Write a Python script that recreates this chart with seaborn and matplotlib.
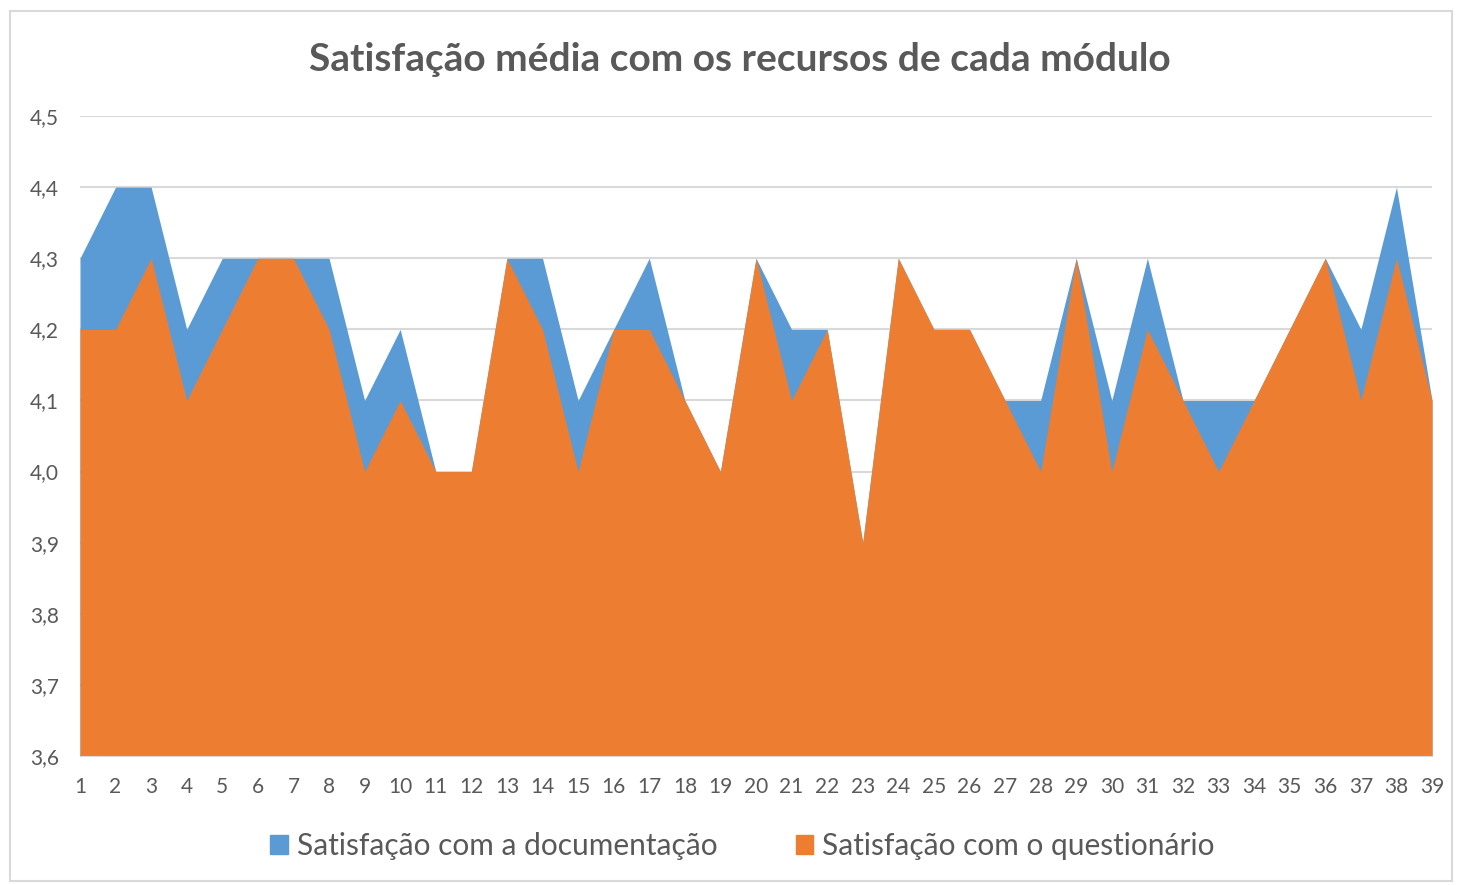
import pandas as pd
import matplotlib.pyplot as plt
import seaborn as sns
from matplotlib.patches import Patch, Rectangle
from matplotlib.ticker import FuncFormatter, MultipleLocator

modulos = list(range(1, 40))
doc = [4.3, 4.4, 4.4, 4.2, 4.3, 4.3, 4.3, 4.3, 4.1, 4.2,
       4.0, 4.0, 4.3, 4.3, 4.1, 4.2, 4.3, 4.1, 4.0, 4.3,
       4.2, 4.2, 3.9, 4.3, 4.2, 4.2, 4.1, 4.1, 4.3, 4.1,
       4.3, 4.1, 4.1, 4.1, 4.2, 4.3, 4.2, 4.4, 4.1]
quest = [4.2, 4.2, 4.3, 4.1, 4.2, 4.3, 4.3, 4.2, 4.0, 4.1,
         4.0, 4.0, 4.3, 4.2, 4.0, 4.2, 4.2, 4.1, 4.0, 4.3,
         4.1, 4.2, 3.9, 4.3, 4.2, 4.2, 4.1, 4.0, 4.3, 4.0,
         4.2, 4.1, 4.0, 4.1, 4.2, 4.3, 4.1, 4.3, 4.1]
series = ['Satisfação com a documentação', 'Satisfação com o questionário']
cores = ['#5B9BD5', '#ED7D31']

df = pd.DataFrame({'modulo': modulos, series[0]: doc, series[1]: quest})
long = df.melt(id_vars='modulo', var_name='serie', value_name='valor')

sns.set_style('white')
plt.rcParams['font.family'] = ['Lato', 'DejaVu Sans']

fig = plt.figure(figsize=(14.62, 8.85), dpi=100)
ax = fig.add_axes([0.0547, 0.1458, 0.9248, 0.7231])

base = 3.6
sns.lineplot(data=long, x='modulo', y='valor', hue='serie', palette=cores,
             linewidth=0, legend=False, ax=ax)
for nome, cor in zip(series, cores):
    ax.fill_between(df['modulo'], base, df[nome], color=cor, linewidth=0, zorder=2)

ax.set_xlim(1, 39)
ax.set_ylim(3.6, 4.5)
ax.yaxis.set_major_locator(MultipleLocator(0.1))
ax.yaxis.set_major_formatter(FuncFormatter(lambda v, p: f'{v:.1f}'.replace('.', ',')))
ax.set_xticks(modulos)
ax.set_xticklabels([str(m) for m in modulos])
ax.grid(axis='y', color='#d9d9d9', linewidth=1.5, zorder=0)
ax.set_axisbelow(True)
for s in ['top', 'right', 'left']:
    ax.spines[s].set_visible(False)
ax.spines['bottom'].set_color('#d9d9d9')
ax.spines['bottom'].set_zorder(3)
ax.tick_params(axis='x', colors='#d9d9d9', length=6, width=1, labelcolor='#595959',
               labelsize=15, pad=9)
ax.tick_params(axis='y', length=0, labelcolor='#595959', labelsize=15, pad=15)
ax.set_xlabel('')
ax.set_ylabel('')

fig.text(0.506, 0.933, 'Satisfação média com os recursos de cada módulo',
         ha='center', va='center', fontsize=28, fontweight='bold', color='#595959')

handles = [Patch(color=c, label=n) for n, c in zip(series, cores)]
fig.legend(handles=handles, loc='center', bbox_to_anchor=(0.508, 0.044), ncol=2,
           frameon=False, fontsize=21.5, labelcolor='#595959', handlelength=0.6,
           handleheight=0.6, handletextpad=0.3, columnspacing=2.6)

fig.patches.append(Rectangle((0.007, 0.004), 0.986, 0.984, transform=fig.transFigure,
                             fill=False, edgecolor='#d9d9d9', linewidth=1.5))

fig.savefig('out.png', dpi=100)
